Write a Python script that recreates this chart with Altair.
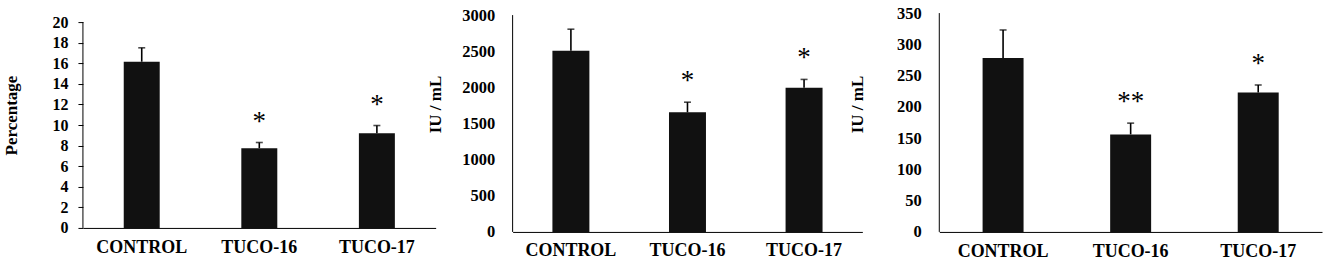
import altair as alt
import pandas as pd

categories = ["CONTROL", "TUCO-16", "TUCO-17"]

pct_mean = [16.15, 7.75, 9.2]
pct_err = [1.35, 0.55, 0.75]
pct_sig = ["", "*", "*"]
pct_ticks = [0, 2, 4, 6, 8, 10, 12, 14, 16, 18, 20]

iu1_mean = [2505, 1655, 1995]
iu1_err = [300, 140, 115]
iu1_sig = ["", "*", "*"]
iu1_ticks = [0, 500, 1000, 1500, 2000, 2500, 3000]

iu2_mean = [278, 156, 223]
iu2_err = [45, 18, 12]
iu2_sig = ["", "**", "*"]
iu2_ticks = [0, 50, 100, 150, 200, 250, 300, 350]

FONT = "Liberation Serif"


def panel(mean, err, sig, ticks, title, width, height, bottom_px_top, bar_w,
          tick_size, ylabel_pad, ylabel_size, title_pad, title_y, xlabel_pad):
    # domain top extended so the top tick sits `bottom_px_top` px below plot top
    top_tick = max(ticks)
    ymax = top_tick * height / (height - bottom_px_top)
    df = pd.DataFrame({
        "cat": categories,
        "mean": mean,
        "top": [m + e for m, e in zip(mean, err)],
        "sig": sig,
    })
    xaxis = alt.Axis(title=None, labelAngle=0, ticks=False, domainColor="black",
                     domainWidth=1, labelFont=FONT, labelFontWeight="bold",
                     labelFontSize=18, labelColor="black", labelPadding=xlabel_pad)
    xscale = alt.Scale(paddingInner=0, paddingOuter=0)

    def X():
        return alt.X("cat:N", sort=categories, scale=xscale, axis=xaxis)

    yscale = alt.Scale(domain=[0, ymax], nice=False, zero=True)
    yaxis = alt.Axis(
        values=ticks, domain=False, grid=False, format="d", labelOverlap=False,
        ticks=tick_size > 0, tickSize=tick_size, tickColor="black", tickWidth=1,
        labelFont=FONT, labelFontWeight="bold", labelFontSize=ylabel_size,
        labelColor="black", labelPadding=ylabel_pad,
        title=title, titleFont=FONT, titleFontWeight="bold", titleFontSize=17,
        titleColor="black", titlePadding=title_pad, titleY=title_y,
    )

    def Y(field):
        return alt.Y(field, scale=yscale, axis=yaxis, title=title)

    base = alt.Chart(df)
    bars = base.mark_bar(width=bar_w, color="#111111").encode(x=X(), y=Y("mean:Q"))
    errs = base.mark_rule(color="black", strokeWidth=1.6).encode(
        x=X(), y=Y("mean:Q"), y2="top:Q"
    )
    caps = base.mark_tick(color="black", size=7, thickness=1.6, orient="horizontal").encode(
        x=X(), y=Y("top:Q")
    )
    stars = base.transform_filter("datum.sig != ''").mark_text(
        font=FONT, fontSize=27, color="#000000", baseline="alphabetic", dy=-13
    ).encode(x=X(), y=Y("top:Q"), text="sig:N")
    axis_df = pd.DataFrame({"y0": [min(ticks)], "y1": [top_tick]})
    yline = alt.Chart(axis_df).mark_rule(color="black", strokeWidth=1).encode(
        x=alt.value(0), y=Y("y0:Q"), y2="y1:Q"
    )
    return alt.layer(bars, errs, caps, stars, yline).properties(width=width, height=height)


p1 = panel(pct_mean, pct_err, pct_sig, pct_ticks, "Percentage", 353, 215, 9, 36,
           5, 10, 16, 31, 102, 11)
p2 = panel(iu1_mean, iu1_err, iu1_sig, iu1_ticks, "IU / mL", 350, 219, 2, 37,
           0, 18, 16.5, 17, 91, 10)
p3 = panel(iu2_mean, iu2_err, iu2_sig, iu2_ticks, "IU / mL", 383, 219, 0, 41,
           0, 18, 16.5, 30, 91, 11)

chart = alt.hconcat(p1, p2, p3, spacing=77, bounds="flush").resolve_scale(
    y="independent", x="independent"
).properties(
    padding={"left": 3, "top": 5, "right": 3, "bottom": 0},
    background="white",
).configure_view(stroke=None)

chart.save("out.html", embed_options={"renderer": "svg", "actions": False})
